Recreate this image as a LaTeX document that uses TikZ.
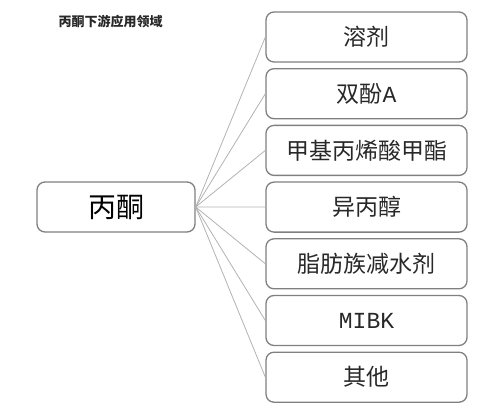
\documentclass[tikz,border=0pt]{standalone}
\usepackage{fontspec}
\setmainfont{Noto Sans CJK SC}
\newfontfamily\latinmono{Liberation Mono}
\usetikzlibrary{positioning}
\definecolor{framegray}{RGB}{128,128,128}
\definecolor{linkgray}{RGB}{178,178,178}
\definecolor{inkgray}{RGB}{40,40,40}

\begin{document}
\begin{tikzpicture}[x=1pt, y=-1pt,
    usebox/.style={draw=framegray, line width=1.3pt, rounded corners=8pt,
      minimum width=201pt, minimum height=50pt, inner sep=0pt,
      text=inkgray, font=\fontsize{23}{23}\selectfont},
    rootbox/.style={usebox, minimum width=158pt, text=black,
      font=\fontsize{28}{28}\selectfont},
    link/.style={draw=linkgray, line width=0.8pt}]
  \useasboundingbox (0,0) rectangle (479,406);
  % title
  \node[anchor=west, text=inkgray, font=\bfseries\fontsize{13}{13}\selectfont]
    (title) at (55,22) {丙酮下游应用领域};
  % acetone
  \node[rootbox] (root) at (116,207) {丙酮};
  % downstream uses
  \foreach \i/\txt in {0/溶剂, 1/双酚{\latinmono A}, 2/甲基丙烯酸甲酯, 3/异丙醇,
      4/脂肪族减水剂, 5/{\latinmono MIBK}, 6/其他}
    \node[usebox] (use\i) at (366.5,{37+56.7*\i}) {\txt};
  \foreach \i in {0,...,6}
    \draw[link] (root.east) -- (use\i.west);
\end{tikzpicture}
\end{document}
